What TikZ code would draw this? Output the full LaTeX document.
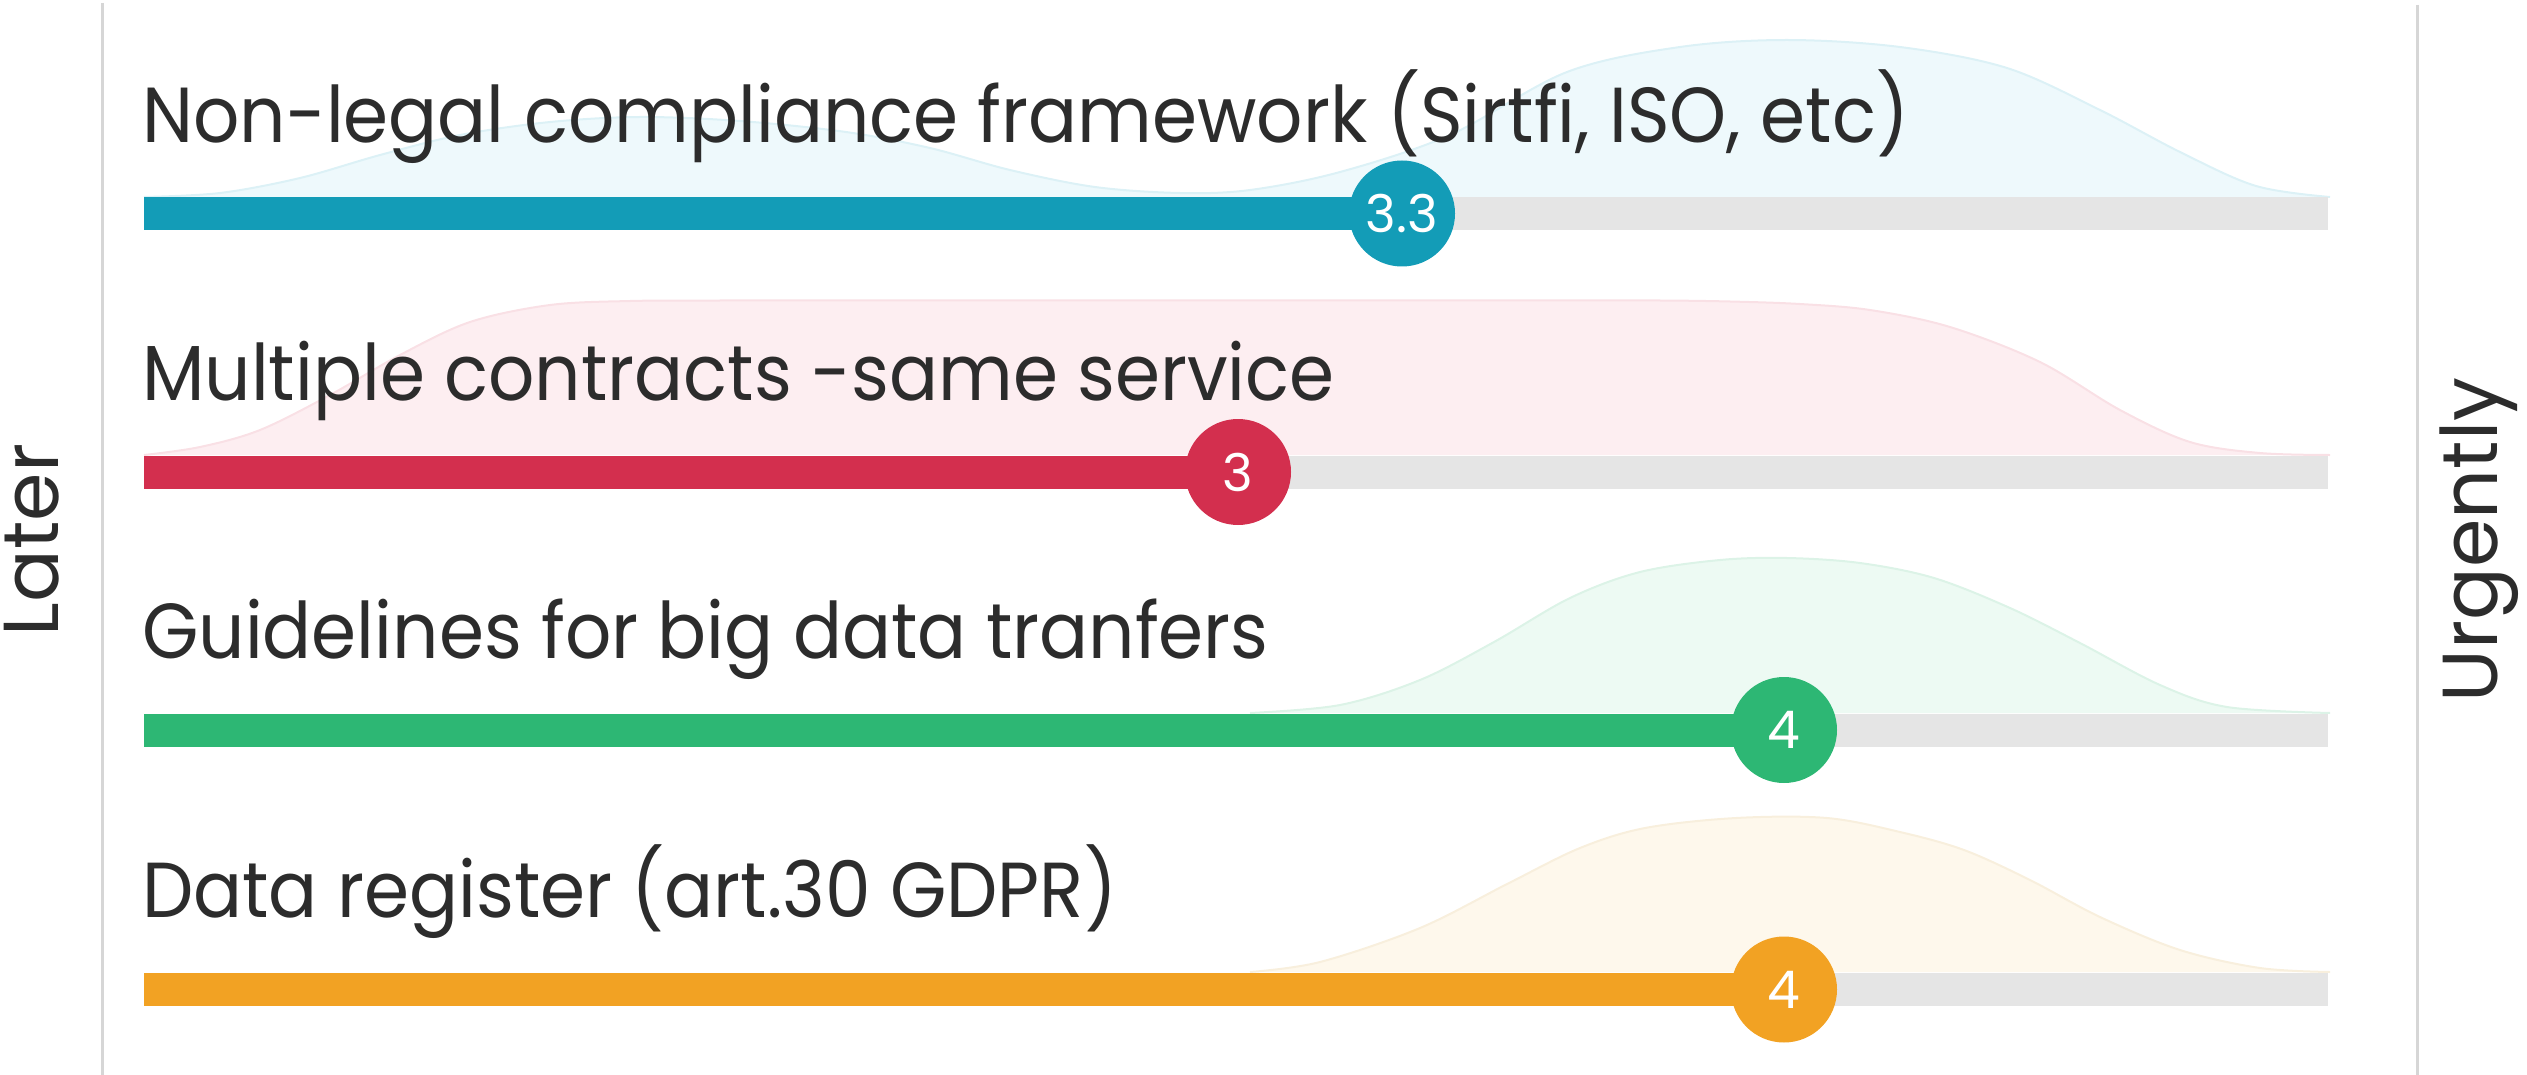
\documentclass[tikz,border=0pt]{standalone}
\usepackage{fontspec}
\setmainfont{Poppins}
\definecolor{cteal}{RGB}{19,156,183}
\definecolor{cred}{RGB}{211,47,78}
\definecolor{cgreen}{RGB}{45,183,116}
\definecolor{corange}{RGB}{242,162,35}
\definecolor{ctrack}{RGB}{229,229,229}
\definecolor{caxis}{RGB}{214,214,214}
\definecolor{ctext}{RGB}{44,44,44}
\definecolor{fteal}{RGB}{238,249,252}
\definecolor{eteal}{RGB}{220,241,246}
\definecolor{fred}{RGB}{253,238,241}
\definecolor{ered}{RGB}{249,224,229}
\definecolor{fgreen}{RGB}{237,250,243}
\definecolor{egreen}{RGB}{220,243,231}
\definecolor{forange}{RGB}{254,248,236}
\definecolor{eorange}{RGB}{248,239,221}
\newcommand{\narrowtxt}[1]{\scalebox{0.93}[1]{#1}}
\begin{document}
\begin{tikzpicture}[x=1pt,y=-1pt,
  axisline/.style={draw=caxis,line width=3pt},
  track/.style={draw=ctrack,line width=33pt},
  fillbar/.style={line width=33pt},
  knob/.style={circle,minimum size=106pt,inner sep=0pt,text=white,font=\fontsize{52}{60}\selectfont},
  title/.style={anchor=base west,inner sep=0pt,text=ctext,font=\fontsize{78}{90}\selectfont},
  side/.style={rotate=90,anchor=base,inner sep=0pt,text=ctext,font=\fontsize{78}{90}\selectfont},
  hump/.style={smooth,tension=0.55}]
\useasboundingbox (0,0) rectangle (2527,1075);
% humps
\def\humpA{(144,197) (220,193) (300,178) (380,155) (460,135) (550,122) (640,117) (740,121) (846,132) (930,148) (1010,170) (1095,187) (1180,193) (1250,190) (1340,172) (1450,135) (1567,72) (1680,47) (1787,40) (1900,47) (2007,68) (2100,110) (2180,152) (2256,186) (2330,197)}
\def\humpB{(144,455) (200,447) (260,430) (330,395) (400,355) (470,322) (550,305) (630,301) (720,300.5) (820,300.5) (1000,300.5) (1200,300.5) (1400,300.5) (1560,300.5) (1660,300.5) (1730,301.5) (1800,304) (1870,310) (1950,327) (2040,362) (2120,410) (2190,442) (2260,453) (2330,455)}
\def\humpC{(1250,713) (1340,705) (1420,680) (1494,642) (1570,598) (1640,572) (1720,560) (1787,558) (1860,563) (1934,578) (2010,608) (2080,643) (2160,685) (2227,707) (2330,713)}
\def\humpD{(1250,972) (1320,962) (1420,928) (1509,883) (1580,848) (1645,828) (1736,818) (1827,818) (1900,832) (1964,850) (2030,880) (2100,917) (2180,950) (2260,968) (2330,972)}
\fill[fteal] plot[hump] coordinates {\humpA} -- cycle;
\draw[eteal,line width=2pt] plot[hump] coordinates {\humpA};
\fill[fred] plot[hump] coordinates {\humpB} -- cycle;
\draw[ered,line width=2pt] plot[hump] coordinates {\humpB};
\fill[fgreen] plot[hump] coordinates {\humpC} -- cycle;
\draw[egreen,line width=2pt] plot[hump] coordinates {\humpC};
\fill[forange] plot[hump] coordinates {\humpD} -- cycle;
\draw[eorange,line width=2pt] plot[hump] coordinates {\humpD};
% axes
\coordinate (lt) at (102.5,3);
\coordinate (lb) at (102.5,1075);
\coordinate (rt) at (2417,5);
\coordinate (rb) at (2417,1075);
\draw[axisline] (lt) -- (lb);
\draw[axisline] (rt) -- (rb);
\node[side] (later) at (58,540) {Later};
\node[side] (urg) at (2497,540) {Urgently};
% titles
\node[title] (t1) at (142,143) {\narrowtxt{Non-legal compliance framework (Sirtfi, ISO, etc)}};
\node[title] (t2) at (142,400) {\narrowtxt{Multiple contracts -same service}};
\node[title] (t3) at (142,658) {\narrowtxt{Guidelines for big data tranfers}};
\node[title] (t4) at (142,917) {\narrowtxt{Data register (art.30 GDPR)}};
% bars
\coordinate (s1) at (144,213.5);
\coordinate (e1) at (2328,213.5);
\coordinate (s2) at (144,472);
\coordinate (e2) at (2328,472);
\coordinate (s3) at (144,730);
\coordinate (e3) at (2328,730);
\coordinate (s4) at (144,989.5);
\coordinate (e4) at (2328,989.5);
\coordinate (c1) at (1402,213.5);
\coordinate (c2) at (1238,472);
\coordinate (c3) at (1784,730);
\coordinate (c4) at (1784,989.5);
\draw[track] (s1) -- (e1);
\draw[track] (s2) -- (e2);
\draw[track] (s3) -- (e3);
\draw[track] (s4) -- (e4);
\draw[fillbar,cteal] (s1) -- (c1);
\draw[fillbar,cred] (s2) -- (c2);
\draw[fillbar,cgreen] (s3) -- (c3);
\draw[fillbar,corange] (s4) -- (c4);
\node[knob,fill=cteal] (k1) at (c1) {3.3};
\node[knob,fill=cred] (k2) at (c2) {3};
\node[knob,fill=cgreen] (k3) at (c3) {4};
\node[knob,fill=corange] (k4) at (c4) {4};
\end{tikzpicture}
\end{document}
